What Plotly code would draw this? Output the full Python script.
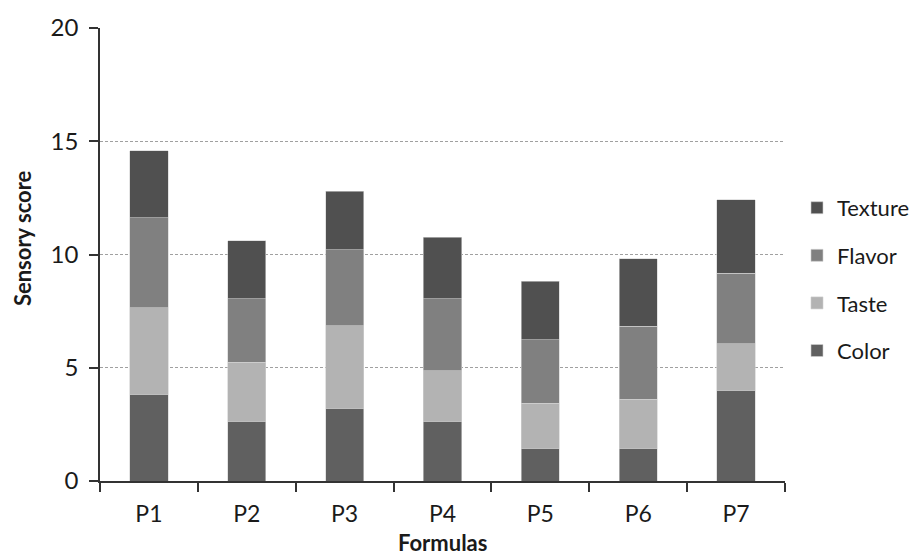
import plotly.graph_objects as go

categories = ["P1", "P2", "P3", "P4", "P5", "P6", "P7"]
color_vals = [3.83, 2.64, 3.21, 2.64, 1.44, 1.44, 4.00]
taste_vals = [3.82, 2.61, 3.65, 2.22, 2.00, 2.17, 2.07]
flavor_vals = [3.98, 2.80, 3.36, 3.19, 2.79, 3.23, 3.11]
texture_vals = [2.94, 2.55, 2.58, 2.71, 2.60, 2.98, 3.23]
y_ticks = [0, 5, 10, 15, 20]

series = [
    ("Color", color_vals, "#606060", 4),
    ("Taste", taste_vals, "#b3b3b3", 3),
    ("Flavor", flavor_vals, "#808080", 2),
    ("Texture", texture_vals, "#505050", 1),
]

FONT = "Lato, Open Sans, sans-serif"
TXT = "#1a1a1a"

fig = go.Figure()
for name, vals, col, rank in series:
    fig.add_trace(go.Bar(
        x=categories, y=vals, name=name, legendgroup=name, legendrank=rank,
        marker=dict(color=col, line=dict(color="#d0d0d0", width=0.6)),
        width=0.39,
    ))

# page has an 8px body margin; figure sized to fit the 920x558 window
fig.update_layout(
    barmode="stack",
    width=912, height=550,
    margin=dict(l=92, r=135, t=20, b=77, autoexpand=False),
    plot_bgcolor="white", paper_bgcolor="white",
    font=dict(family=FONT, color=TXT, size=22),
    showlegend=True,
    legend=dict(
        traceorder="grouped", tracegroupgap=16,
        x=1.0175, xanchor="left", y=0.445, yanchor="middle",
        font=dict(size=22, family=FONT, color=TXT),
        itemwidth=30,
    ),
    annotations=[
        dict(text="<b>Formulas</b>", xref="paper", yref="paper", x=0.5, y=-0.136,
             xanchor="center", yanchor="middle", showarrow=False,
             font=dict(size=22, family=FONT, color=TXT)),
        dict(text="<b>Sensory score</b>", xref="paper", yref="paper", x=-0.114, y=0.536,
             xanchor="center", yanchor="middle", textangle=-90, showarrow=False,
             font=dict(size=22, family=FONT, color=TXT)),
    ],
)
fig.update_xaxes(
    type="category", automargin=False,
    showline=True, linecolor="#333333", linewidth=1.5,
    ticks="outside", ticklen=9, tickcolor="#333333", tickwidth=1.5,
    tickson="boundaries",
    tickfont=dict(size=23, family=FONT, color=TXT),
    ticklabelstandoff=12,
    showgrid=False,
)
fig.update_yaxes(
    range=[0, 20], tickvals=y_ticks, automargin=False,
    showline=True, linecolor="#333333", linewidth=1.5,
    ticks="outside", ticklen=9, tickcolor="#333333", tickwidth=1.5,
    tickfont=dict(size=24, family=FONT, color=TXT),
    ticklabelstandoff=6,
    showgrid=True, gridcolor="#a0a0a0", griddash="3px,2px", gridwidth=1,
    zeroline=False,
)

fig.write_html("out.html")
